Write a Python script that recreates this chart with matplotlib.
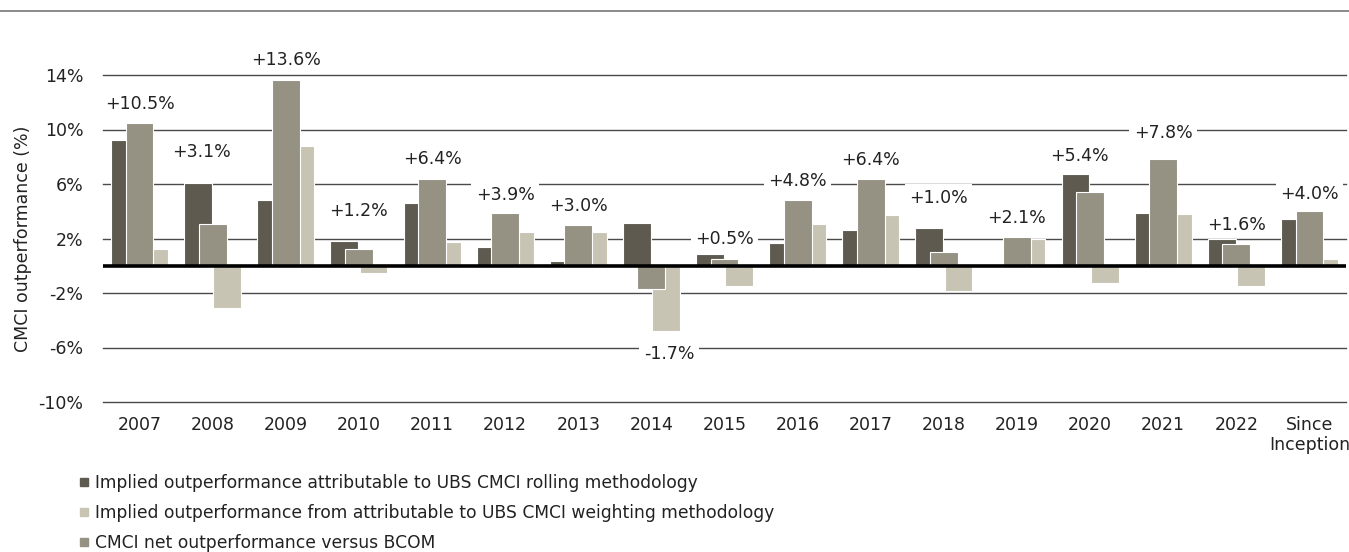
import matplotlib
matplotlib.use("Agg")
import matplotlib.pyplot as plt
import numpy as np
from matplotlib.lines import Line2D

plt.rcParams['font.family'] = ['DejaVu Sans']

categories = ['2007', '2008', '2009', '2010', '2011', '2012', '2013', '2014', '2015',
              '2016', '2017', '2018', '2019', '2020', '2021', '2022', 'Since\nInception']
rolling = [9.2, 6.1, 4.8, 1.8, 4.6, 1.35, 0.35, 3.15, 0.85, 1.7, 2.6, 2.8, 0.0, 6.7, 3.9, 1.95, 3.4]
weighting = [1.25, -3.1, 8.8, -0.55, 1.75, 2.45, 2.5, -4.8, -1.5, 3.05, 3.7, -1.85, 2.0, -1.3, 3.8, -1.5, 0.5]
net = [10.5, 3.1, 13.6, 1.2, 6.4, 3.9, 3.0, -1.7, 0.5, 4.8, 6.4, 1.0, 2.1, 5.4, 7.8, 1.6, 4.0]
yticks = [14, 10, 6, 2, -2, -6, -10]

# layout of the value labels (data units)
label_y = [11.9, 8.35, 15.1, 4.0, 7.8, 5.2, 4.35, -6.5, 1.95, 6.25, 7.75, 5.0, 3.5, 8.05, 9.75, 3.0, 5.3]
label_dx = [0, -0.15, 0, 0, 0, 0, 0, 0.24, 0, 0, 0, -0.07, 0, -0.14, 0, 0, 0]

c_dark = '#5E5A50'
c_mid = '#959284'
c_light = '#C7C4B4'

W, H = 1349, 552
fig = plt.figure(figsize=(W / 100, H / 100), dpi=100)
ax = fig.add_axes([103 / W, 1 - 402 / H, (1346 - 103) / W, (402 - 75) / H])
ax.set_xlim(-0.5, len(categories) - 0.5)
ax.set_ylim(-10, 14)

x = np.arange(len(categories))
bw = 0.38
ax.bar(x - 0.2, rolling, bw, color=c_dark, edgecolor='white', linewidth=0.8, zorder=3)
ax.bar(x + 0.2, weighting, bw, color=c_light, edgecolor='white', linewidth=0.8, zorder=3)
ax.bar(x, net, bw, color=c_mid, edgecolor='white', linewidth=0.8, zorder=4)

for t in yticks:
    ax.axhline(t, color='#4a4a4a', linewidth=1.0, zorder=1, clip_on=False)
ax.axhline(0, color='black', linewidth=2.6, zorder=6)

for i, v in enumerate(net):
    txt = f'{v:+.1f}%'
    ax.text(x[i] + label_dx[i], label_y[i], txt, ha='center', va='center', fontsize=12.5,
            color='#222222', zorder=5,
            bbox=dict(boxstyle='square,pad=0.25', facecolor='white', edgecolor='none'))

for s in ax.spines.values():
    s.set_visible(False)
ax.set_yticks(yticks)
ax.set_yticklabels([f'{t}%' for t in yticks], fontsize=12.5, color='#222222')
ax.set_xticks(x)
ax.set_xticklabels(categories, fontsize=12.5, color='#222222', linespacing=1.15)
ax.tick_params(axis='both', length=0)
ax.tick_params(axis='y', pad=14)
ax.tick_params(axis='x', pad=10)
ax.set_ylabel('CMCI outperformance (%)', fontsize=12.5, color='#222222')
ax.yaxis.set_label_coords(-71 / (1346 - 103), 0.5)

# top rule
fig.add_artist(Line2D([0, 1], [1 - 10.5 / H, 1 - 10.5 / H], color='#777777', linewidth=1.2))

handles = [
    Line2D([], [], marker='s', linestyle='none', markersize=6, color=c_dark),
    Line2D([], [], marker='s', linestyle='none', markersize=6, color=c_light),
    Line2D([], [], marker='s', linestyle='none', markersize=6, color=c_mid),
]
labels = ['Implied outperformance attributable to UBS CMCI rolling methodology',
          'Implied outperformance from attributable to UBS CMCI weighting methodology',
          'CMCI net outperformance versus BCOM']
fig.legend(handles, labels, loc='upper left', bbox_to_anchor=(79 / W, 1 - 474 / H),
           frameon=False, fontsize=12.3, handlelength=0.6, handletextpad=0.35,
           labelspacing=0.7, borderpad=0, borderaxespad=0, labelcolor='#222222')

fig.savefig('out.png', dpi=100)
